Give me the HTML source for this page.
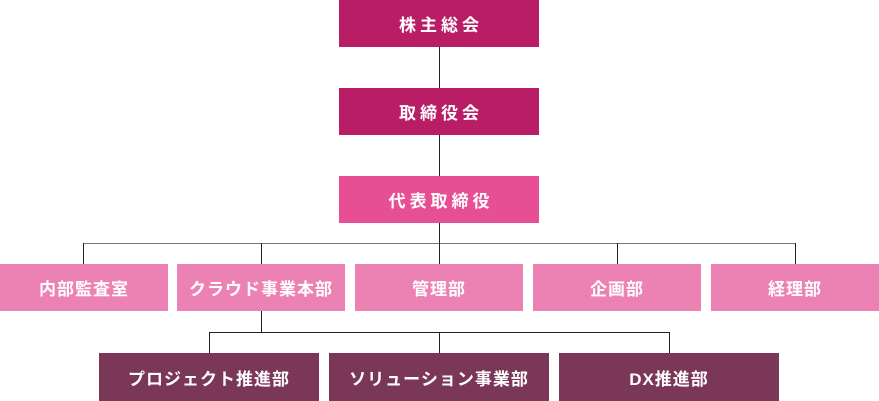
<!DOCTYPE html>
<html><head><meta charset="utf-8"><style>
body{margin:0;width:879px;height:401px;background:#fff;position:relative;overflow:hidden;font-family:"Liberation Sans","Noto Sans CJK JP",sans-serif}
.b{position:absolute;display:flex;align-items:center;justify-content:center;color:#fff;font-weight:bold;font-size:17px;letter-spacing:1px}
.t{letter-spacing:4px;padding-left:4px;box-sizing:border-box}
.l{position:absolute;background:#222}
.a{background:#b91d65}.c{background:#e74f95}.d{background:#ec82b4}.e{background:#7a3757}
</style></head><body>
<div class="l" style="left:439px;top:47px;width:1px;height:41px"></div>
<div class="l" style="left:439px;top:135px;width:1px;height:41px"></div>
<div class="l" style="left:439px;top:223px;width:1px;height:21px"></div>
<div class="l" style="left:83px;top:243px;width:713px;height:1px;background:#777"></div>
<div class="l" style="left:83px;top:243px;width:1px;height:21px"></div>
<div class="l" style="left:261px;top:243px;width:1px;height:21px"></div>
<div class="l" style="left:439px;top:243px;width:1px;height:21px"></div>
<div class="l" style="left:617px;top:243px;width:1px;height:21px"></div>
<div class="l" style="left:795px;top:243px;width:1px;height:21px"></div>
<div class="l" style="left:261px;top:311px;width:1px;height:21px"></div>
<div class="l" style="left:209px;top:332px;width:461px;height:1px"></div>
<div class="l" style="left:209px;top:332px;width:1px;height:21px"></div>
<div class="l" style="left:439px;top:332px;width:1px;height:21px"></div>
<div class="l" style="left:669px;top:332px;width:1px;height:21px"></div>
<div class="b a t" style="left:339px;top:0;width:200px;height:47px">株主総会</div>
<div class="b a t" style="left:339px;top:88px;width:200px;height:47px">取締役会</div>
<div class="b c t" style="left:339px;top:176px;width:200px;height:47px">代表取締役</div>
<div class="b d" style="left:0;top:264px;width:168px;height:47px">内部監査室</div>
<div class="b d" style="left:177px;top:264px;width:168px;height:47px">クラウド事業本部</div>
<div class="b d" style="left:355px;top:264px;width:168px;height:47px">管理部</div>
<div class="b d" style="left:533px;top:264px;width:168px;height:47px">企画部</div>
<div class="b d" style="left:711px;top:264px;width:168px;height:47px">経理部</div>
<div class="b e" style="left:99px;top:353px;width:220px;height:48px">プロジェクト推進部</div>
<div class="b e" style="left:329px;top:353px;width:220px;height:48px">ソリューション事業部</div>
<div class="b e" style="left:559px;top:353px;width:220px;height:48px">DX推進部</div>
</body></html>
